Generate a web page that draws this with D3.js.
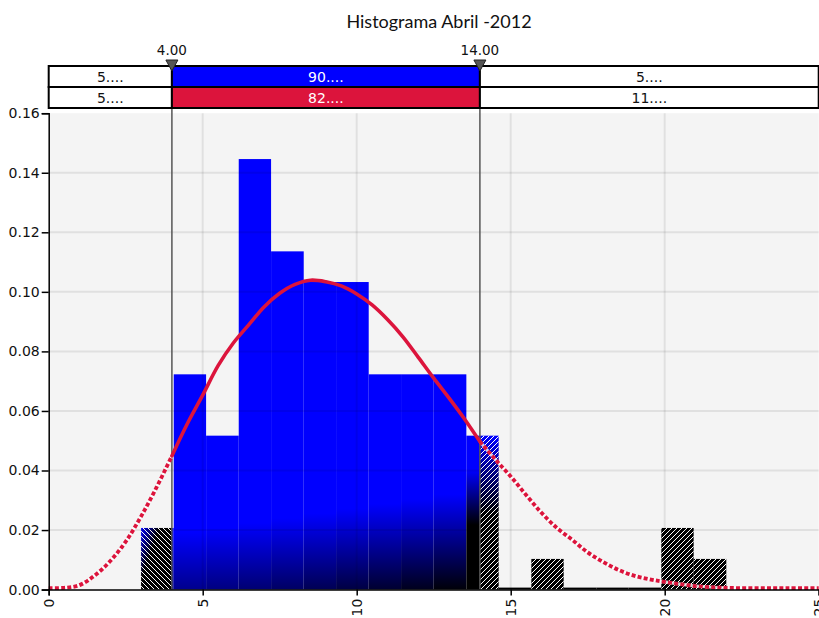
<!DOCTYPE html>
<html>
<head>
<meta charset="utf-8">
<script src="https://cdn.jsdelivr.net/npm/d3@7"></script>
<style>
  body { margin: 0; background: #fff; }
  text { font-family: 'DejaVu Sans', sans-serif; }
</style>
</head>
<body>
<div id="chart"></div>
<script>
// histogram bins (edges) and density of each bin
const binEdges = [3.00, 4.06, 5.11, 6.17, 7.22, 8.28, 9.33, 10.39, 11.44, 12.50,
  13.56, 14.61, 15.67, 16.72, 17.78, 18.83, 19.89, 20.94, 22.00]
const density = [0.0207, 0.0723, 0.0517, 0.1446, 0.1136, 0.1033, 0.1033, 0.0723, 0.0723,
  0.0723, 0.0517, 0, 0.0103, 0, 0, 0, 0.0207, 0.0103]

// fitted curve
const curveX = [0, 0.5, 1, 1.5, 2, 2.5, 3, 3.5, 4, 4.5, 5, 5.5, 6, 6.5, 7, 7.5, 8, 8.5, 9, 9.5,
  10, 10.5, 11, 11.5, 12, 12.5, 13, 13.5, 14, 14.5, 15, 15.5, 16, 16.5, 17, 17.5, 18, 18.5,
  19, 19.5, 20, 21, 22, 23, 24, 25]
const curveY = [0.0005, 0.0006, 0.0015, 0.0048, 0.0096, 0.0161, 0.0246, 0.0343, 0.0449, 0.0557,
  0.0653, 0.0752, 0.0829, 0.0890, 0.0950, 0.0995, 0.1025, 0.1039, 0.1034, 0.1020,
  0.0993, 0.0956, 0.0907, 0.0849, 0.0780, 0.0710, 0.0643, 0.0573, 0.0497, 0.0437,
  0.0380, 0.0318, 0.0258, 0.0207, 0.0167, 0.0125, 0.0093, 0.0066, 0.0047, 0.0035,
  0.0026, 0.0012, 0.0006, 0.0005, 0.0005, 0.0005]

const markers = [4, 14]
const markerLabels = ['4.00', '14.00']
const bandData = ['5....', '90....', '5....']
const bandFit = ['5....', '82....', '11....']
const xTicks = [0, 5, 10, 15, 20, 25]
const yTicks = [0, 0.02, 0.04, 0.06, 0.08, 0.10, 0.12, 0.14, 0.16]
const title = 'Histograma Abril -2012'

const width = 819
const height = 618

const svg = d3
  .select('#chart')
  .append('svg')
  .attr('width', width)
  .attr('height', height)

const x = d3.scaleLinear().domain([0, 25]).range([48.7, 818.7])
const y = d3.scaleLinear().domain([0, 0.16]).range([589.6, 113.2])

const lo = markers[0]
const hi = markers[1]
const blue = '#0000ff'
const red = '#dc143c'

const defs = svg.append('defs')

// hatching: 1px white diagonals on a transparent tile
function hatch(id, d) {
  defs
    .append('pattern')
    .attr('id', id)
    .attr('patternUnits', 'userSpaceOnUse')
    .attr('width', 5)
    .attr('height', 5)
    .append('path')
    .attr('d', d)
    .attr('stroke', '#fff')
    .attr('stroke-width', 1)
    .attr('shape-rendering', 'crispEdges')
    .attr('fill', 'none')
}
hatch('hatchL', 'M0,0 L5,5 M-1,4 L1,6 M4,-1 L6,1')
hatch('hatchR', 'M0,5 L5,0 M-1,1 L1,-1 M4,6 L6,4')

// corner gradients for the hatched bars that touch the blue zone
const gLeft = defs.append('linearGradient').attr('id', 'gLeft')
  .attr('x1', 0).attr('y1', 0).attr('x2', 0.7).attr('y2', 0.5)
gLeft.append('stop').attr('offset', 0).attr('stop-color', blue)
gLeft.append('stop').attr('offset', 0.55).attr('stop-color', '#000')

const gRight = defs.append('linearGradient').attr('id', 'gRight')
  .attr('x1', 0).attr('y1', 0).attr('x2', 0).attr('y2', 1)
gRight.append('stop').attr('offset', 0).attr('stop-color', blue)
gRight.append('stop').attr('offset', 0.5).attr('stop-color', '#000')

// title
svg.append('text')
  .attr('x', 439)
  .attr('y', 28)
  .attr('text-anchor', 'middle')
  .style('font-family', 'Lato, "Open Sans", sans-serif')
  .style('font-size', '18px')
  .attr('fill', '#111')
  .text(title)

// plot background
svg.append('rect')
  .attr('x', x(0))
  .attr('y', y(0.16))
  .attr('width', x(25) - x(0))
  .attr('height', y(0) - y(0.16))
  .attr('fill', '#f4f4f4')

// bars
const bins = density.map((d, i) => ({ i: i, x0: binEdges[i], x1: binEdges[i + 1], d: d }))
const barsG = svg.append('g')

bins.forEach(b => {
  if (b.d === 0) {
    barsG.append('rect')
      .attr('x', x(b.x0))
      .attr('y', y(0) - 2)
      .attr('width', x(b.x1) - x(b.x0))
      .attr('height', 2)
      .attr('fill', '#000')
    return
  }
  const top = y(b.d)
  const h = y(0) - top

  // inside the two markers: blue, darkening toward the bottom
  const a = Math.max(b.x0, lo)
  const c = Math.min(b.x1, hi)
  if (c > a) {
    const t = ((x(a) + x(c)) / 2 - x(lo)) / (x(hi) - x(lo))
    const g = defs.append('linearGradient')
      .attr('id', 'in' + b.i)
      .attr('gradientUnits', 'userSpaceOnUse')
      .attr('x1', 0).attr('x2', 0)
      .attr('y1', t > 0.95 ? 470 : 535 - 45 * t)
      .attr('y2', t > 0.95 ? 525 : 665 - 80 * t)
    g.append('stop').attr('offset', 0).attr('stop-color', blue)
    g.append('stop').attr('offset', 1).attr('stop-color', '#000')
    barsG.append('rect')
      .attr('x', x(a))
      .attr('y', top)
      .attr('width', x(c) - x(a))
      .attr('height', h)
      .attr('fill', 'url(#in' + b.i + ')')
  }

  // outside: hatched
  if (b.x0 < lo) {
    const e = Math.min(b.x1, lo)
    const base = b.x1 > lo ? 'url(#gLeft)' : '#000'
    barsG.append('rect')
      .attr('x', x(b.x0)).attr('y', top)
      .attr('width', x(e) - x(b.x0)).attr('height', h)
      .attr('fill', base)
    barsG.append('rect')
      .attr('x', x(b.x0)).attr('y', top)
      .attr('width', x(e) - x(b.x0)).attr('height', h)
      .attr('fill', 'url(#hatchL)')
  }
  if (b.x1 > hi) {
    const s = Math.max(b.x0, hi)
    const base = b.x0 < hi ? 'url(#gRight)' : '#000'
    barsG.append('rect')
      .attr('x', x(s)).attr('y', top)
      .attr('width', x(b.x1) - x(s)).attr('height', h)
      .attr('fill', base)
    barsG.append('rect')
      .attr('x', x(s)).attr('y', top)
      .attr('width', x(b.x1) - x(s)).attr('height', h)
      .attr('fill', 'url(#hatchR)')
  }
})

// grid, drawn over the bars so it shows faintly through them
const grid = svg.append('g')
  .attr('stroke', '#000')
  .attr('stroke-opacity', 0.08)
  .attr('stroke-width', 2)
grid.selectAll('.gy')
  .data(yTicks.filter(d => d > 0 && d < 0.16))
  .enter()
  .append('line')
  .attr('x1', x(0)).attr('x2', x(25))
  .attr('y1', d => y(d)).attr('y2', d => y(d))
grid.selectAll('.gx')
  .data(xTicks.filter(d => d > 0 && d < 25))
  .enter()
  .append('line')
  .attr('x1', d => x(d)).attr('x2', d => x(d))
  .attr('y1', y(0.16)).attr('y2', y(0))

// marker lines
svg.selectAll('.mline')
  .data(markers)
  .enter()
  .append('line')
  .attr('x1', d => x(d)).attr('x2', d => x(d))
  .attr('y1', 66).attr('y2', y(0))
  .attr('stroke', '#555')
  .attr('stroke-width', 1.5)

// fitted curve: solid between the markers, dashed outside
const pts = curveX.map((v, i) => [v, curveY[i]])
const line = d3.line()
  .x(d => x(d[0]))
  .y(d => y(d[1]))
  .curve(d3.curveCatmullRom)

const leftPts = pts.filter(p => p[0] <= lo)
const midPts = pts.filter(p => p[0] >= lo && p[0] <= hi)
const rightPts = pts.filter(p => p[0] >= hi)

;[leftPts, rightPts].forEach(p => {
  svg.append('path')
    .attr('d', line(p))
    .attr('fill', 'none')
    .attr('stroke', '#fff')
    .attr('stroke-opacity', 0.8)
    .attr('stroke-width', 3.2)
  svg.append('path')
    .attr('d', line(p))
    .attr('fill', 'none')
    .attr('stroke', red)
    .attr('stroke-width', 3.8)
    .attr('stroke-dasharray', '4,2.2')
})
svg.append('path')
  .attr('d', line(midPts))
  .attr('fill', 'none')
  .attr('stroke', red)
  .attr('stroke-width', 3.6)
  .attr('stroke-linecap', 'round')

// axes
const yAxis = d3.axisLeft(y)
  .tickValues(yTicks)
  .tickSize(7)
  .tickPadding(2)
  .tickFormat(d3.format('.2f'))

svg.append('g')
  .attr('class', 'axis y-axis')
  .attr('transform', 'translate(' + x(0) + ',0)')
  .call(yAxis)

const xAxis = d3.axisBottom(x)
  .tickValues(xTicks)
  .tickSize(6)
  .tickFormat(d3.format('d'))

svg.append('g')
  .attr('class', 'axis x-axis')
  .attr('transform', 'translate(0,' + y(0) + ')')
  .call(xAxis)
  .selectAll('text')
  .attr('transform', 'rotate(-90)')
  .attr('text-anchor', 'end')
  .attr('x', -9)
  .attr('y', 0)
  .attr('dy', '0.35em')

svg.selectAll('.axis text')
  .style('font-family', '"DejaVu Sans", sans-serif')
  .style('font-size', '14px')
  .attr('fill', '#111')
svg.selectAll('.axis path, .axis line')
  .attr('stroke', '#000')
  .attr('stroke-width', 1.5)

// band above the plot
const segs = [0, lo, hi, 25]
const rows = [
  { vals: bandData, fill: blue, y0: 66, y1: 87 },
  { vals: bandFit, fill: red, y0: 87, y1: 108 }
]
const band = svg.append('g')
rows.forEach(r => {
  r.vals.forEach((v, i) => {
    band.append('rect')
      .attr('x', x(segs[i]))
      .attr('y', r.y0)
      .attr('width', x(segs[i + 1]) - x(segs[i]))
      .attr('height', r.y1 - r.y0)
      .attr('fill', i === 1 ? r.fill : '#fff')
      .attr('stroke', '#000')
      .attr('stroke-width', 2)
    band.append('text')
      .attr('x', (x(segs[i]) + x(segs[i + 1])) / 2)
      .attr('y', r.y1 - 5.5)
      .attr('text-anchor', 'middle')
      .style('font-size', '14px')
      .attr('fill', i === 1 ? '#fff' : '#111')
      .text(v)
  })
})

// marker triangles and labels
svg.selectAll('.tri')
  .data(markers)
  .enter()
  .append('path')
  .attr('d', d => 'M' + (x(d) - 6) + ',60 L' + (x(d) + 6) + ',60 L' + x(d) + ',71 Z')
  .attr('fill', '#555')
  .attr('stroke', '#222')
  .attr('stroke-width', 1)

svg.selectAll('.mlabel')
  .data(markers)
  .enter()
  .append('text')
  .attr('x', d => x(d))
  .attr('y', 55)
  .attr('text-anchor', 'middle')
  .style('font-size', '13.5px')
  .attr('fill', '#111')
  .text((d, i) => markerLabels[i])
</script>
</body>
</html>
